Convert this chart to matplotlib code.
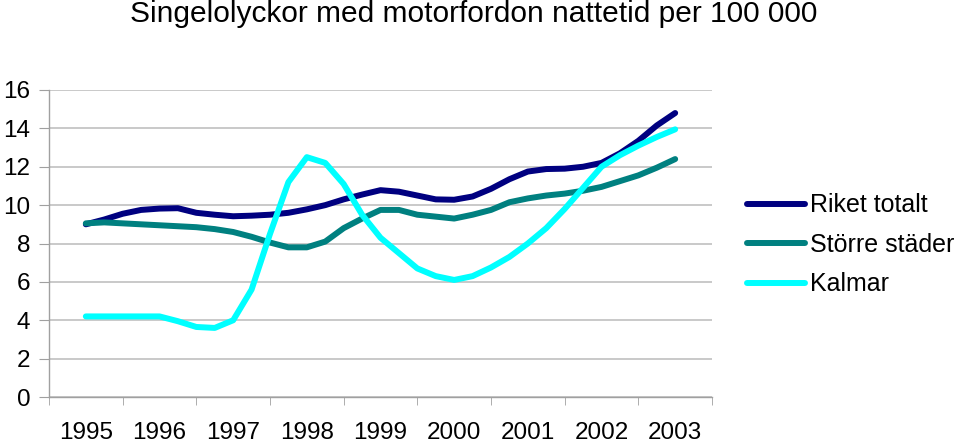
import matplotlib
matplotlib.use("Agg")
import matplotlib.pyplot as plt
import numpy as np

plt.rcParams['font.family'] = ['Liberation Sans', 'DejaVu Sans']

years = ["1995", "1996", "1997", "1998", "1999", "2000", "2001", "2002", "2003"]
# quarterly readings, 1995 .. 2003 (33 points)
riket = [9.0, 9.25, 9.55, 9.75, 9.82, 9.84, 9.6, 9.5, 9.42, 9.45, 9.5, 9.6, 9.78,
         10.0, 10.3, 10.55, 10.78, 10.7, 10.5, 10.3, 10.28, 10.45, 10.85, 11.35,
         11.75, 11.88, 11.9, 12.0, 12.2, 12.7, 13.35, 14.15, 14.8]
storre = [9.05, 9.1, 9.05, 9.0, 8.95, 8.9, 8.85, 8.75, 8.6, 8.35, 8.05, 7.8, 7.8,
          8.1, 8.8, 9.3, 9.75, 9.75, 9.5, 9.4, 9.3, 9.5, 9.75, 10.15, 10.35, 10.5,
          10.6, 10.75, 10.95, 11.25, 11.55, 11.95, 12.4]
kalmar = [4.2, 4.2, 4.2, 4.2, 4.2, 3.95, 3.65, 3.6, 4.0, 5.6, 8.5, 11.2, 12.5,
          12.2, 11.1, 9.5, 8.3, 7.5, 6.7, 6.3, 6.1, 6.3, 6.75, 7.3, 8.0, 8.8, 9.8,
          10.9, 12.0, 12.6, 13.1, 13.55, 13.95]
series_names = ["Riket totalt", "Större städer", "Kalmar"]
colors = ["#000080", "#008080", "#00FFFF"]

x = np.arange(len(riket)) / 4.0

fig = plt.figure(figsize=(9.59, 4.43), dpi=100)
ax = fig.add_axes([49/959, 1-397/443, (712-49)/959, (397-90)/443])

for vals, name, c in zip([riket, storre, kalmar], series_names, colors):
    ax.plot(x, vals, color=c, lw=4.3, label=name, solid_capstyle='round',
            solid_joinstyle='round')

ax.set_xlim(-0.5, len(years) - 0.5)
ax.set_ylim(0, 16)
ax.set_yticks(np.arange(0, 17, 2))
ax.yaxis.grid(True, color="#c0c0c0", lw=1.2)
ax.set_axisbelow(True)
for s in ["top", "right"]:
    ax.spines[s].set_visible(False)
for s in ["left", "bottom"]:
    ax.spines[s].set_color("#a0a0a0")
    ax.spines[s].set_linewidth(1.0)

ax.set_xticks(np.arange(len(years)))
ax.set_xticklabels(years)
ax.set_xticks(np.arange(len(years) + 1) - 0.5, minor=True)
ax.tick_params(axis='x', which='major', length=0, pad=18, labelsize=17.5)
ax.tick_params(axis='x', which='minor', length=6, color="#a0a0a0", direction='out')
ax.tick_params(axis='y', length=7, color="#a0a0a0", pad=6.5, labelsize=17.5)

fig.text(0.494, 0.968, "Singelolyckor med motorfordon nattetid per 100 000",
         ha='center', va='center', fontsize=21.5)

fig.legend(loc='center left', bbox_to_anchor=(0.768, 0.447), frameon=False,
           fontsize=18, handlelength=2.35, handletextpad=0.2, labelspacing=0.62,
           borderaxespad=0)

fig.savefig("out.png", dpi=100)
